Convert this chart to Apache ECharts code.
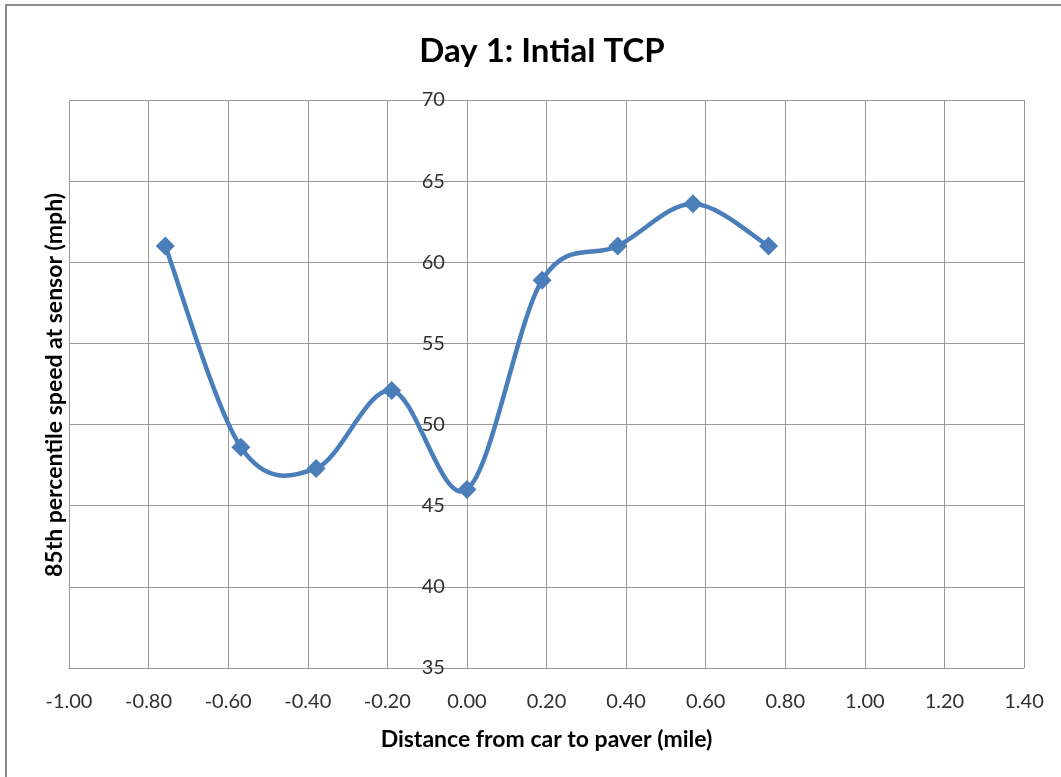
<!DOCTYPE html>
<html>
<head>
<meta charset="utf-8">
<script src="https://cdn.jsdelivr.net/npm/echarts@6/dist/echarts.min.js"></script>
<style>
html,body{margin:0;padding:0;background:#fff;}
#frame{position:absolute;left:5px;top:4px;width:1056px;height:773px;border-left:2px solid #8c8c8c;border-top:2px solid #8c8c8c;box-sizing:border-box;}
#chart{position:absolute;left:0;top:0;width:1061px;height:777px;}
</style>
</head>
<body>
<div id="frame"></div>
<div id="chart"></div>
<script>
const distances = [-0.758, -0.568, -0.379, -0.189, 0.0, 0.189, 0.379, 0.568, 0.758];
const speeds = [61.0, 48.6, 47.3, 52.1, 46.0, 58.9, 61.0, 63.6, 61.0];
const titleText = 'Day 1: Intial TCP';
const xName = 'Distance from car to paver (mile)';
const yName = '85th percentile speed at sensor (mph)';

const chart = echarts.init(document.getElementById('chart'), null, {renderer: 'canvas'});
const font = 'Lato, "Open Sans", sans-serif';
const gridLeft = 69;
const lineColor = '#4a7ebb';
const points = distances.map((d, i) => [d, speeds[i]]);

// Smoothed connecting line (Catmull-Rom style, like a spreadsheet "smoothed line"),
// each segment built from the data points through the axes' scales.
function renderSegment(params, api) {
  const i = params.dataIndex;
  const n = points.length;
  if (i >= n - 1) return null;
  const p0 = api.coord(points[Math.max(i - 1, 0)]);
  const p1 = api.coord(points[i]);
  const p2 = api.coord(points[i + 1]);
  const p3 = api.coord(points[Math.min(i + 2, n - 1)]);
  const c1 = [p1[0] + (p2[0] - p0[0]) / 6, p1[1] + (p2[1] - p0[1]) / 6];
  const c2 = [p2[0] - (p3[0] - p1[0]) / 6, p2[1] - (p3[1] - p1[1]) / 6];
  return {
    type: 'bezierCurve',
    shape: {x1: p1[0], y1: p1[1], cpx1: c1[0], cpy1: c1[1], cpx2: c2[0], cpy2: c2[1], x2: p2[0], y2: p2[1]},
    style: {stroke: lineColor, lineWidth: 4.5, fill: null, lineCap: 'round'}
  };
}

const option = {
  animation: false,
  backgroundColor: 'transparent',
  title: {
    text: titleText, left: 537, top: 30, textAlign: 'center',
    textStyle: {fontFamily: font, fontWeight: 'bold', fontSize: 33, color: '#000'}
  },
  grid: {left: gridLeft, right: 37, top: 100, bottom: 109, containLabel: false},
  xAxis: {
    type: 'value', min: -1.0, max: 1.4, interval: 0.2,
    name: xName, nameLocation: 'middle', nameGap: 60,
    nameTextStyle: {fontFamily: font, fontWeight: 'bold', fontSize: 23, color: '#000'},
    axisLine: {show: true, onZero: false, lineStyle: {color: '#9a9a9a', width: 1}},
    axisTick: {show: false},
    splitLine: {show: true, lineStyle: {color: '#9a9a9a', width: 1}},
    axisLabel: {margin: 24, fontFamily: font, fontSize: 20, color: '#303030',
      formatter: v => v.toFixed(2)}
  },
  yAxis: {
    type: 'value', min: 35, max: 70, interval: 5,
    offset: 0,
    axisLine: {show: true, onZero: false, lineStyle: {color: '#9a9a9a', width: 1}},
    axisTick: {show: false},
    splitLine: {show: true, lineStyle: {color: '#9a9a9a', width: 1}},
    axisLabel: {margin: 22, fontFamily: font, fontSize: 20, color: '#303030'}
  },
  series: [{
    type: 'custom',
    renderItem: renderSegment,
    data: points,
    z: 2
  }, {
    type: 'scatter',
    data: points,
    symbol: 'diamond', symbolSize: 19,
    itemStyle: {color: lineColor, opacity: 1},
    z: 3
  }],
  graphic: [{
    type: 'text',
    x: 55, y: 385,
    rotation: Math.PI / 2,
    style: {text: yName, font: 'bold 23px ' + font, fill: '#000', align: 'center', verticalAlign: 'middle'}
  }]
};
chart.setOption(option);
// move the y axis so that it crosses the x axis at 0
const zeroX = chart.convertToPixel({xAxisIndex: 0}, 0);
chart.setOption({yAxis: {offset: -(zeroX - gridLeft)}});
</script>
</body>
</html>
